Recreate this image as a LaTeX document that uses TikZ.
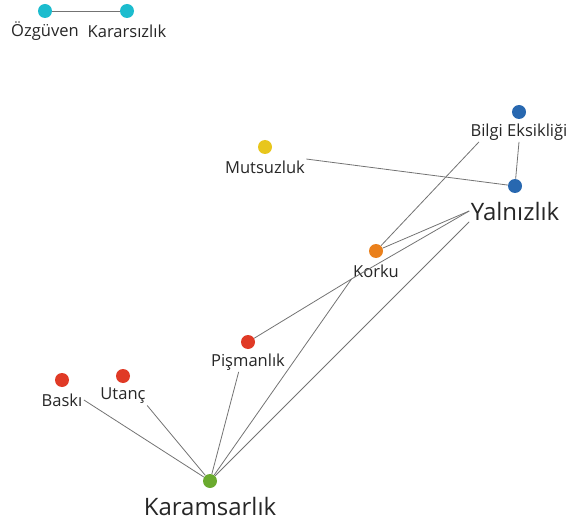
\documentclass[tikz,border=0pt]{standalone}
\usepackage{fontspec}
\setmainfont{Open Sans}
\usetikzlibrary{positioning}

\definecolor{dotcyan}{RGB}{28,188,206}
\definecolor{dotyellow}{RGB}{232,198,28}
\definecolor{dotblue}{RGB}{40,104,176}
\definecolor{dotorange}{RGB}{234,128,28}
\definecolor{dotred}{RGB}{224,58,38}
\definecolor{dotgreen}{RGB}{106,170,46}

\tikzset{
	dot/.style={circle, inner sep=0pt, minimum size=10.5pt},
	lbl/.style={font=\fontsize{12.4}{14}\selectfont, inner sep=1pt, text=black!85},
	biglbl/.style={font=\fontsize{18}{21}\selectfont, inner sep=1pt, text=black!85},
	edge/.style={draw=black!55, line width=0.6pt}
}

\begin{document}
\begin{tikzpicture}[x=0.75pt, y=-0.75pt]
	\useasboundingbox (0,0) rectangle (571,524);
	
	\foreach \id/\x/\y/\col/\name in {
		ozguven/45/11/dotcyan/Özgüven,
		kararsizlik/127/11/dotcyan/Kararsızlık,
		bilgi/519/112/dotblue/Bilgi Eksikliği,
		mutsuzluk/265/147/dotyellow/Mutsuzluk,
		korku/376/251/dotorange/Korku,
		pisman/248/342/dotred/Pişmanlık,
		utanc/123/376/dotred/Utanç,
		baski/62/380/dotred/Baskı
	}
	{
		\node [dot, fill=\col] at (\x,\y) (\id) {};
		\node [lbl] at (\x,\y+20) (\id-l) {\name};
	}
	
	\foreach \id/\x/\y/\col/\name in {
		yalnizlik/515/186/dotblue/Yalnızlık,
		karamsarlik/210/481/dotgreen/Karamsarlık
	}
	{
		\node [dot, fill=\col] at (\x,\y) (\id) {};
		\node [biglbl] at (\x,\y+25) (\id-l) {\name};
	}
	
	% connectors
	\draw [edge] (ozguven) -- (kararsizlik);
	\draw [edge] (mutsuzluk-l.north east) -- (yalnizlik);
	\draw [edge] (bilgi-l.south) -- (yalnizlik);
	\draw [edge] ([xshift=-30]bilgi-l.south) -- (korku);
	\draw [edge] (yalnizlik-l.west) -- (korku);
	\draw [edge] (yalnizlik-l.west) -- (korku-l.south west);
	\draw [edge] (yalnizlik-l.south west) -- (karamsarlik);
	\draw [edge] (korku-l.south west) -- (pisman);
	\draw [edge] (korku-l.south west) -- (karamsarlik);
	\draw [edge] ([xshift=-7]pisman-l.south) -- (karamsarlik);
	\draw [edge] (baski-l.east) -- (karamsarlik);
	\draw [edge] (utanc-l.south east) -- (karamsarlik);
\end{tikzpicture}
\end{document}
